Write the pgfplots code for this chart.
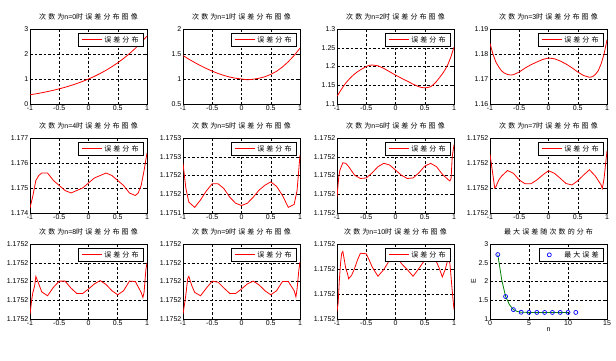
\documentclass[border=0pt]{standalone}
\usepackage{pgfplots}
\pgfplotsset{compat=1.18}
\usepackage{fontspec}
\setmainfont{Liberation Sans}
\newfontfamily\cjk{Noto Sans CJK SC}[LetterSpace=30]
\newcommand\tfont{\cjk\fontsize{7}{8}\selectfont}
\newcommand\kfont{\fontsize{7}{8}\selectfont}
\newcommand\lat[1]{{\rmfamily\fontsize{7}{8}\selectfont #1}}
\pgfplotsset{
  sub/.style={
    scale only axis, width=117pt, height=75pt, anchor=south west,
    grid=major,
    major grid style={black, line width=0.5pt, dash pattern=on 2.5pt off 2pt},
    axis line style={black, line width=0.9pt},
    tick align=inside, major tick length=2.5pt,
    tick style={black, line width=0.5pt},
    ticklabel style={font=\kfont},
    xticklabel style={inner sep=1pt},
    yticklabel style={inner sep=1.5pt},
    /pgf/number format/assume math mode=true,
    title style={font=\tfont, at={(0.5,1)}, anchor=south, yshift=3pt, inner sep=0pt},
    legend style={at={(0.97,0.95)}, anchor=north east, font=\tfont, draw=black, line width=0.8pt, fill=white, inner xsep=2.5pt, inner ysep=1pt},
    legend cell align=left,
    legend image code/.code={\draw[draw=red, line width=1.2pt] (0pt,0pt) -- (20pt,0pt);},
  },
  err/.style={sub, xmin=-1, xmax=1, xtick={-1,-0.5,0,0.5,1}, xticklabels={-1,-0.5,0,0.5,1}},
}
\tikzset{rl/.style={red, line width=0.8pt}}
\begin{document}
\begin{tikzpicture}
\useasboundingbox (0pt,0pt) rectangle (616pt,360pt);
% ---------- row 1
\begin{axis}[err, at={(30pt,256pt)}, ymin=0, ymax=3, ytick={0,1,2,3}, yticklabels={0,1,2,3}, title={次数为\lat{n=0}时误差分布图像}]
\addplot[rl] coordinates {(-1,0.368)(-0.9,0.407)(-0.8,0.449)(-0.7,0.497)(-0.6,0.549)(-0.5,0.607)(-0.4,0.670)(-0.3,0.741)(-0.2,0.819)(-0.1,0.905)(0,1.0)(0.1,1.105)(0.2,1.221)(0.3,1.350)(0.4,1.492)(0.5,1.649)(0.6,1.822)(0.7,2.014)(0.8,2.226)(0.9,2.460)(1,2.718)};
\addlegendentry{误差分布}
\end{axis}
\begin{axis}[err, at={(183pt,256pt)}, ymin=0.5, ymax=2, ytick={0.5,1,1.5,2}, yticklabels={0.5,1,1.5,2}, title={次数为\lat{n=1}时误差分布图像}]
\addplot[rl] coordinates {(-1,1.468)(-0.9,1.397)(-0.8,1.329)(-0.7,1.267)(-0.6,1.209)(-0.5,1.157)(-0.4,1.110)(-0.3,1.071)(-0.2,1.039)(-0.1,1.015)(0,1.0)(0.1,0.985)(0.2,0.995)(0.3,1.015)(0.4,1.045)(0.5,1.092)(0.6,1.155)(0.7,1.240)(0.8,1.346)(0.9,1.470)(1,1.618)};
\addlegendentry{误差分布}
\end{axis}
\begin{axis}[err, at={(337pt,256pt)}, ymin=1.1, ymax=1.3, ytick={1.1,1.15,1.2,1.25,1.3}, yticklabels={1.1,1.15,1.2,1.25,1.3}, title={次数为\lat{n=2}时误差分布图像}]
\addplot[rl] coordinates {(-1,1.12)(-0.95,1.133)(-0.9,1.145)(-0.85,1.156)(-0.8,1.165)(-0.75,1.173)(-0.7,1.180)(-0.65,1.186)(-0.6,1.191)(-0.5,1.200)(-0.45,1.203)(-0.4,1.204)(-0.3,1.202)(-0.2,1.195)(-0.1,1.186)(0,1.177)(0.1,1.169)(0.2,1.161)(0.3,1.153)(0.4,1.146)(0.45,1.144)(0.5,1.143)(0.55,1.144)(0.6,1.146)(0.65,1.152)(0.7,1.160)(0.75,1.170)(0.8,1.180)(0.85,1.192)(0.9,1.207)(0.95,1.227)(1,1.252)};
\addlegendentry{误差分布}
\end{axis}
\begin{axis}[err, at={(490pt,256pt)}, ymin=1.16, ymax=1.19, ytick={1.16,1.17,1.18,1.19}, yticklabels={1.16,1.17,1.18,1.19}, title={次数为\lat{n=3}时误差分布图像}]
\addplot[rl] coordinates {(-1,1.1842)(-0.95,1.1800)(-0.9,1.1768)(-0.85,1.1748)(-0.8,1.1732)(-0.75,1.1723)(-0.7,1.1718)(-0.65,1.1716)(-0.6,1.1717)(-0.5,1.1728)(-0.4,1.1744)(-0.3,1.1757)(-0.2,1.1768)(-0.1,1.1778)(0,1.1784)(0.1,1.1781)(0.2,1.1772)(0.3,1.1760)(0.4,1.1745)(0.5,1.1728)(0.55,1.1721)(0.6,1.1714)(0.7,1.1707)(0.75,1.1709)(0.8,1.1718)(0.85,1.1733)(0.9,1.1761)(0.95,1.1800)(1,1.1856)};
\addlegendentry{误差分布}
\end{axis}
% ---------- row 2
\begin{axis}[err, at={(30pt,147pt)}, ymin=1.174, ymax=1.177, ytick={1.174,1.175,1.176,1.177}, yticklabels={1.174,1.175,1.176,1.177}, title={次数为\lat{n=4}时误差分布图像}]
\addplot[rl] coordinates {(-1,1.1742)(-0.95,1.1747)(-0.9,1.1753)(-0.85,1.1755)(-0.8,1.1756)(-0.7,1.1756)(-0.6,1.1753)(-0.5,1.1751)(-0.4,1.1749)(-0.3,1.1748)(-0.2,1.1749)(-0.1,1.1750)(0,1.1752)(0.1,1.1754)(0.2,1.1755)(0.3,1.1756)(0.4,1.1755)(0.5,1.1753)(0.6,1.1751)(0.7,1.1748)(0.8,1.1747)(0.85,1.1748)(0.9,1.1751)(0.95,1.1757)(1,1.1764)};
\addlegendentry{误差分布}
\end{axis}
\begin{axis}[err, at={(183pt,147pt)}, ymin=0, ymax=20, ytick={0,5,10,15,20}, yticklabels={1.1751,1.1752,1.1752,1.1753,1.1753}, title={次数为\lat{n=5}时误差分布图像}]
\addplot[rl] coordinates {(-1,13.2)(-0.95,6.5)(-0.9,2.9)(-0.8,1.5)(-0.7,3.5)(-0.6,5.9)(-0.5,7.8)(-0.4,7.8)(-0.3,6.5)(-0.2,4.2)(-0.1,2.6)(0,2.0)(0.1,2.6)(0.2,4.2)(0.3,6.1)(0.4,7.4)(0.5,8.3)(0.6,7.1)(0.7,4.7)(0.8,1.5)(0.9,2.3)(0.95,6.0)(1,15.5)};
\addlegendentry{误差分布}
\end{axis}
\begin{axis}[err, at={(337pt,147pt)}, ymin=0, ymax=4, ytick={0,1,2,3,4}, yticklabels={1.1752,1.1752,1.1752,1.1752,1.1752}, title={次数为\lat{n=6}时误差分布图像}]
\addplot[rl] coordinates {(-1,0.85)(-0.97,1.93)(-0.95,2.29)(-0.9,2.68)(-0.85,2.65)(-0.8,2.47)(-0.7,2.02)(-0.6,1.84)(-0.5,1.87)(-0.4,2.14)(-0.3,2.47)(-0.2,2.65)(-0.1,2.56)(0,2.29)(0.1,2.02)(0.2,1.84)(0.3,1.87)(0.4,2.14)(0.5,2.50)(0.6,2.65)(0.7,2.47)(0.8,2.07)(0.9,1.78)(0.93,1.71)(0.95,1.84)(0.97,3.01)(1,3.64)};
\addlegendentry{误差分布}
\end{axis}
\begin{axis}[err, at={(490pt,147pt)}, ymin=0, ymax=3, ytick={0,1,2,3}, yticklabels={1.1752,1.1752,1.1752,1.1752}, title={次数为\lat{n=7}时误差分布图像}]
\addplot[rl] coordinates {(-1,2.34)(-0.95,1.52)(-0.92,1.0)(-0.9,1.05)(-0.85,1.32)(-0.8,1.48)(-0.7,1.70)(-0.6,1.59)(-0.5,1.32)(-0.4,1.17)(-0.3,1.17)(-0.2,1.32)(-0.1,1.52)(0,1.69)(0.1,1.59)(0.2,1.39)(0.3,1.18)(0.4,1.12)(0.5,1.29)(0.6,1.52)(0.7,1.73)(0.8,1.48)(0.9,1.12)(0.92,0.98)(0.95,1.39)(1,2.48)};
\addlegendentry{误差分布}
\end{axis}
% ---------- row 3
\begin{axis}[err, at={(30pt,41pt)}, ymin=0, ymax=4, ytick={0,1,2,3,4}, yticklabels={1.1752,1.1752,1.1752,1.1752,1.1752}, title={次数为\lat{n=8}时误差分布图像}]
\addplot[rl] coordinates {(-1,0.24)(-0.97,1.05)(-0.95,1.42)(-0.92,1.78)(-0.9,2.27)(-0.85,1.87)(-0.8,1.45)(-0.7,1.24)(-0.6,1.69)(-0.5,2.02)(-0.4,2.02)(-0.3,1.65)(-0.2,1.36)(-0.1,1.36)(0,1.6)(0.1,1.87)(0.2,2.05)(0.3,1.84)(0.4,1.51)(0.5,1.29)(0.6,1.51)(0.7,2.02)(0.8,2.0)(0.9,1.42)(0.93,1.15)(0.95,1.42)(0.98,2.6)(1,3.0)};
\addlegendentry{误差分布}
\end{axis}
\begin{axis}[err, at={(183pt,41pt)}, ymin=0, ymax=4, ytick={0,1,2,3,4}, yticklabels={1.1752,1.1752,1.1752,1.1752,1.1752}, title={次数为\lat{n=9}时误差分布图像}]
\addplot[rl] coordinates {(-1,0.27)(-0.97,0.87)(-0.95,1.33)(-0.92,2.15)(-0.9,2.27)(-0.85,1.78)(-0.8,1.42)(-0.7,1.24)(-0.6,1.65)(-0.5,2.02)(-0.4,1.96)(-0.3,1.65)(-0.2,1.36)(-0.1,1.36)(0,1.6)(0.1,1.87)(0.2,2.02)(0.3,1.82)(0.4,1.51)(0.5,1.29)(0.6,1.51)(0.7,2.0)(0.8,2.0)(0.9,1.51)(0.93,1.18)(0.95,1.6)(0.98,2.6)(1,3.05)};
\addlegendentry{误差分布}
\end{axis}
\begin{axis}[err, at={(337pt,41pt)}, ymin=0, ymax=3, ytick={0,1,2,3}, yticklabels={1.1752,1.1752,1.1752,1.1752}, title={次数为\lat{n=10}时误差分布图像}]
\addplot[rl] coordinates {(-1,0.31)(-0.98,0.65)(-0.96,1.54)(-0.94,2.22)(-0.92,2.63)(-0.9,2.70)(-0.88,2.43)(-0.85,2.02)(-0.82,1.81)(-0.8,1.61)(-0.75,1.75)(-0.7,2.02)(-0.65,2.36)(-0.6,2.63)(-0.5,2.61)(-0.45,2.36)(-0.4,2.09)(-0.3,1.71)(-0.2,1.98)(-0.1,2.36)(0,2.6)(0.1,2.22)(0.2,1.98)(0.3,1.71)(0.4,2.02)(0.5,2.36)(0.6,2.56)(0.7,2.29)(0.75,2.02)(0.8,1.68)(0.85,1.98)(0.9,2.43)(0.93,2.22)(0.96,1.40)(0.98,0.86)(1,0.38)};
\addlegendentry{误差分布}
\end{axis}
\begin{axis}[sub, at={(490pt,41pt)}, xmin=0, xmax=15, ymin=1, ymax=3, xtick={0,5,10,15}, xticklabels={0,5,10,15}, ytick={1,1.5,2,2.5,3}, yticklabels={1,1.5,2,2.5,3}, title={最大误差随次数的分布}, xlabel={n}, ylabel={E}, label style={font=\kfont}, xlabel style={inner sep=1pt}, ylabel style={inner sep=1pt},
  legend image code/.code={\path[draw=none] (0pt,0pt) -- (20pt,0pt); \draw[draw=blue, line width=0.7pt] (7pt,0pt) circle (2pt);}]
\addplot[color={rgb,255:red,0;green,128;blue,0}, line width=0.8pt, forget plot] coordinates {(1,2.718)(1.5,2.05)(2,1.6)(2.5,1.38)(3,1.25)(3.5,1.20)(4,1.18)(5,1.1756)(6,1.1752)(7,1.1752)(8,1.1752)(9,1.1752)(10,1.1752)};
\addplot[blue, only marks, mark=o, mark size=2pt, mark options={line width=0.7pt}] coordinates {(1,2.718)(2,1.6)(3,1.25)(4,1.18)(5,1.1756)(6,1.1752)(7,1.1752)(8,1.1752)(9,1.1752)(10,1.1752)(11,1.1752)};
\addlegendentry{最大误差}
\end{axis}
\end{tikzpicture}
\end{document}
